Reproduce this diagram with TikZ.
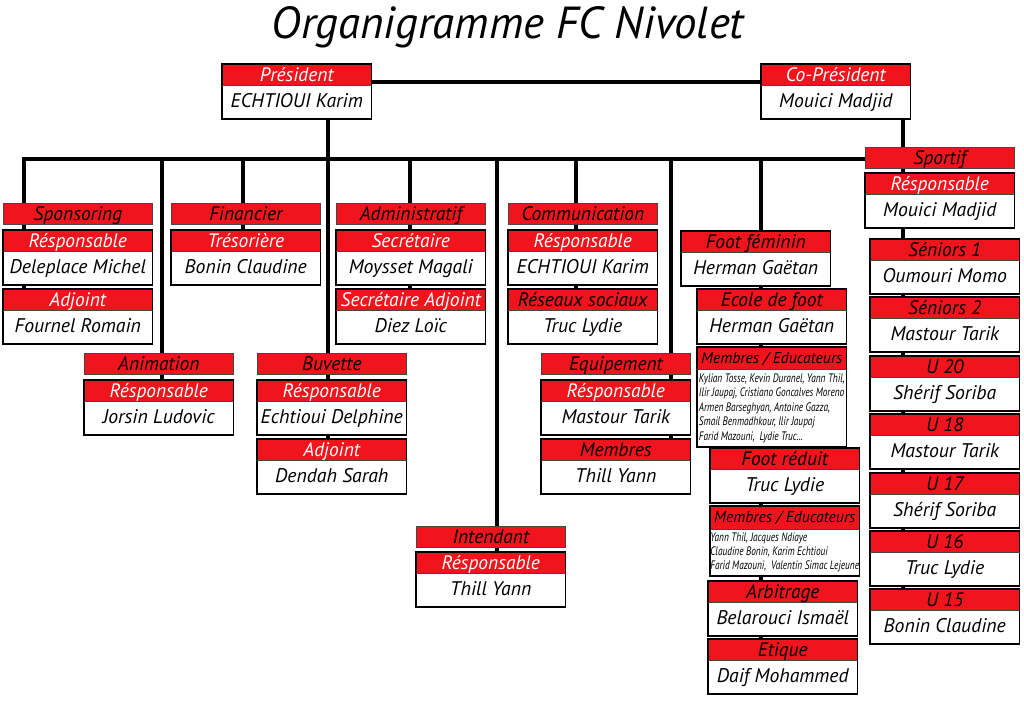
\documentclass[tikz,border=0pt]{standalone}
\usepackage{fontspec}
\setmainfont{PT Sans}
\newfontfamily\condfont[FakeStretch=0.76]{PT Sans}
\definecolor{hred}{RGB}{240,20,28}
\definecolor{secline}{RGB}{70,70,70}
\pgfdeclarelayer{bg}\pgfsetlayers{bg,main}
\tikzset{
 x=0.75pt, y=-0.75pt,
 conn/.style={line width=3pt, black},
 hfont/.style={font=\itshape\fontsize{14.6}{16}\selectfont, text height=11.8pt, text depth=1.7pt},
 bfont/.style={font=\itshape\fontsize{14.8}{16}\selectfont, text height=11pt, text depth=3.5pt},
 secbox/.style={draw=secline, line width=0.6pt, fill=hred, minimum width=111.75pt, minimum height=15.75pt, inner sep=0pt, hfont, text=black},
 rolehdr/.style={fill=hred, minimum width=111.75pt, minimum height=15.75pt, inner sep=0pt, hfont},
 rolebody/.style={fill=white, minimum width=111.75pt, minimum height=24.75pt, inner sep=0pt, bfont, text=black},
 frame/.style={draw=black, line width=1.3pt},
 sepline/.style={draw=secline, line width=0.5pt},
 smallbody/.style={align=left, text height={}, text depth={}, font=\condfont\itshape\fontsize{9.2}{10.8}\selectfont},
 smallhdr/.style={font=\itshape\fontsize{11.8}{13}\selectfont, text height=9.5pt, text depth=2.2pt},
 title/.style={font=\itshape\fontsize{33.7}{38}\selectfont},
}
\newcommand\rolebox[7][24.75pt]{%
 \node[rolehdr, text=#6, anchor=north west] (#2h) at (#3,#4) {#5};
 \node[rolebody, minimum height=#1, anchor=north] (#2) at (#2h.south) {#7};
 \draw[frame] (#2h.north west) rectangle (#2.south east);
 \draw[sepline] (#2h.south west) -- (#2h.south east);
}
\newcommand\secbox[4]{\node[secbox, anchor=north west] (#1) at (#2,#3) {#4};}
\begin{document}
\begin{tikzpicture}
\useasboundingbox (0,0) rectangle (1024,724);
\node[title] (title) at (508,27) {Organigramme FC Nivolet};

% top level
\rolebox{pres}{222}{64}{Président}{white}{ECHTIOUI Karim}
\rolebox{copres}{761}{64}{Co-Président}{white}{Mouici Madjid}

% section headers
\secbox{spon}{3}{203}{Sponsoring}
\secbox{fin}{171}{203}{Financier}
\secbox{adm}{336}{203}{Administratif}
\secbox{com}{508}{203}{Communication}
\secbox{anim}{84}{353}{Animation}
\secbox{buv}{257}{353}{Buvette}
\secbox{equip}{541}{353}{Equipement}
\secbox{inten}{416}{526}{Intendant}
\secbox{sport}{865}{147}{Sportif}

% role boxes
\rolebox{sponR}{3}{230}{Résponsable}{white}{Deleplace Michel}
\rolebox{sponA}{3}{289}{Adjoint}{white}{Fournel Romain}
\rolebox{finR}{171}{230}{Trésorière}{white}{Bonin Claudine}
\rolebox{admS}{336}{230}{Secrétaire}{white}{Moysset Magali}
\rolebox{admA}{336}{289}{Secrétaire Adjoint}{white}{Diez Loïc}
\rolebox{comR}{508}{230}{Résponsable}{white}{ECHTIOUI Karim}
\rolebox{comS}{508}{289}{Réseaux sociaux}{black}{Truc Lydie}
\rolebox{animR}{84}{380}{Résponsable}{white}{Jorsin Ludovic}
\rolebox{buvR}{257}{380}{Résponsable}{white}{Echtioui Delphine}
\rolebox{buvA}{257}{439}{Adjoint}{white}{Dendah Sarah}
\rolebox{equR}{541}{380}{Résponsable}{white}{Mastour Tarik}
\rolebox{equM}{541}{439}{Membres}{black}{Thill Yann}
\rolebox{intR}{416}{552}{Résponsable}{white}{Thill Yann}

% foot column
\rolebox{ffem}{681}{231}{Foot féminin}{black}{Herman Gaëtan}
\rolebox{ecole}{697}{289}{Ecole de foot}{black}{Herman Gaëtan}
\node[rolehdr, smallhdr, text=black, anchor=north west, minimum height=16.5pt] (membAh) at (697,347) {Membres / Educateurs};
\node[rolebody, smallbody, minimum height=57.75pt, anchor=north] (membA) at (membAh.south) {Kylian Tosse, Kevin Duranel, Yann Thil,\\Ilir Jaupaj, Cristiano Goncalves Moreno\\Armen Barseghyan, Antoine Gazza,\\Smail Benmadhkour, Ilir Jaupaj\\Farid Mazouni,\ \ Lydie Truc...};
\draw[frame] (membAh.north west) rectangle (membA.south east);
\draw[sepline] (membAh.south west) -- (membAh.south east);
\rolebox{fred}{710}{448}{Foot réduit}{black}{Truc Lydie}
\node[rolehdr, smallhdr, text=black, anchor=north west, minimum height=17pt] (membBh) at (710,506) {Membres / Educateurs};
\node[rolebody, smallbody, minimum height=34.5pt, anchor=north] (membB) at (membBh.south) {Yann Thil, Jacques Ndiaye\\Claudine Bonin, Karim Echtioui\\Farid Mazouni,\ \ Valentin Simac Lejeune};
\draw[frame] (membBh.north west) rectangle (membB.south east);
\draw[sepline] (membBh.south west) -- (membBh.south east);
\rolebox{arb}{708}{581}{Arbitrage}{black}{Belarouci Ismaël}
\rolebox{etiq}{708}{639}{Etique}{black}{Daif Mohammed}

% sportif column
\rolebox{sportR}{865}{173}{Résponsable}{white}{Mouici Madjid}
\rolebox{senA}{870}{239}{Séniors 1}{black}{Oumouri Momo}
\rolebox{senB}{870}{297}{Séniors 2}{black}{Mastour Tarik}
\rolebox{uxx}{870}{356}{U 20}{black}{Shérif Soriba}
\rolebox{uxviii}{870}{414}{U 18}{black}{Mastour Tarik}
\rolebox{uxvii}{870}{473}{U 17}{black}{Shérif Soriba}
\rolebox{uxvi}{870}{531}{U 16}{black}{Truc Lydie}
\rolebox{uxv}{870}{589}{U 15}{black}{Bonin Claudine}

% connectors
\coordinate (j1) at (24,159);
\coordinate (j2) at (162,159);
\coordinate (j3) at (243,159);
\coordinate (j4) at (328,159);
\coordinate (j5) at (410,159);
\coordinate (j6) at (497,159);
\coordinate (j7) at (576,159);
\coordinate (j8) at (671,159);
\coordinate (j9) at (761,159);
\coordinate (js) at (903,159);
\coordinate (pc) at (371,82);
\begin{pgfonlayer}{bg}
\draw[conn] (sponAh.north -| j1) -- (j1) -- (j1 -| sport.west);
\draw[conn] (j2) -- (animRh.north -| j2);
\draw[conn] (j3) -- (finRh.north -| j3);
\draw[conn] (pres.south -| j4) -- (buvAh.north -| j4);
\draw[conn] (j5) -- (admAh.north -| j5);
\draw[conn] (j6) -- (intRh.north -| j6);
\draw[conn] (j7) -- (comSh.north -| j7);
\draw[conn] (j8) -- (equMh.north -| j8);
\draw[conn] (j9) -- (etiqh.north -| j9);
\draw[conn] (copres.south -| js) -- (uxvh.north -| js);
\draw[conn] (pc) -- (pc -| copresh.west);
\end{pgfonlayer}
\end{tikzpicture}
\end{document}
